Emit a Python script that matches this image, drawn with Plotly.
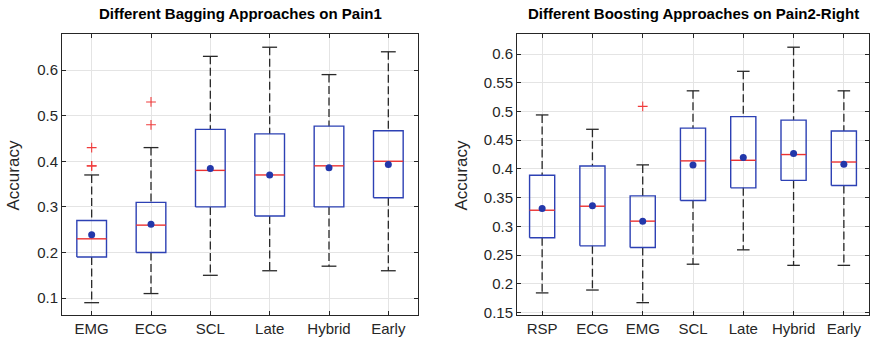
import plotly.graph_objects as go

# ---------------- data: left panel (Bagging on Pain1) ----------------
bag_categories = ["EMG", "ECG", "SCL", "Late", "Hybrid", "Early"]
bag_lower = [0.09, 0.11, 0.15, 0.16, 0.17, 0.16]
bag_q1 = [0.19, 0.20, 0.30, 0.28, 0.30, 0.32]
bag_median = [0.23, 0.26, 0.38, 0.37, 0.39, 0.40]
bag_q3 = [0.27, 0.31, 0.47, 0.46, 0.477, 0.467]
bag_upper = [0.37, 0.43, 0.63, 0.65, 0.59, 0.64]
bag_mean = [0.239, 0.262, 0.384, 0.370, 0.386, 0.393]
bag_outliers = [[0.43, 0.39, 0.39], [0.53, 0.48], [], [], [], []]
bag_yticks = [0.1, 0.2, 0.3, 0.4, 0.5, 0.6]
bag_yticklabels = ["0.1", "0.2", "0.3", "0.4", "0.5", "0.6"]

# ---------------- data: right panel (Boosting on Pain2-Right) ----------------
boost_categories = ["RSP", "ECG", "EMG", "SCL", "Late", "Hybrid", "Early"]
boost_lower = [0.184, 0.189, 0.167, 0.234, 0.259, 0.232, 0.232]
boost_q1 = [0.280, 0.266, 0.263, 0.345, 0.367, 0.380, 0.371]
boost_median = [0.328, 0.335, 0.309, 0.414, 0.415, 0.425, 0.412]
boost_q3 = [0.389, 0.405, 0.353, 0.471, 0.491, 0.485, 0.466]
boost_upper = [0.494, 0.469, 0.407, 0.536, 0.570, 0.612, 0.536]
boost_mean = [0.331, 0.336, 0.309, 0.407, 0.420, 0.427, 0.408]
boost_outliers = [[], [], [0.509], [], [], [], []]
boost_yticks = [0.15, 0.2, 0.25, 0.3, 0.35, 0.4, 0.45, 0.5, 0.55, 0.6]
boost_yticklabels = ["0.15", "0.2", "0.25", "0.3", "0.35", "0.4", "0.45", "0.5", "0.55", "0.6"]

titles = ["Different Bagging Approaches on Pain1",
          "Different Boosting Approaches on Pain2-Right"]

# ---------------- styling ----------------
W, H = 870, 341
FONT = "Liberation Sans, Arial, sans-serif"
BOX_COLOR = "rgb(45,65,180)"
MED_COLOR = "rgb(235,50,50)"
MEAN_COLOR = "rgb(35,55,170)"
WHISK_COLOR = "rgb(40,40,40)"
OUT_COLOR = "rgb(240,60,60)"
GRID = "#e4e4e4"
AX = "#262626"
BOX_HALF = 0.25
CAP_HALF = 0.125

fig = go.Figure()


def add_panel(xa, ya, lower, q1, med, q3, upper, mean, outliers):
    n = len(med)
    bx, by, mx, my, wx, wy, cx, cy, ox, oy = [], [], [], [], [], [], [], [], [], []
    for i in range(n):
        p = i + 1
        bx += [p - BOX_HALF, p + BOX_HALF, p + BOX_HALF, p - BOX_HALF, p - BOX_HALF, None]
        by += [q1[i], q1[i], q3[i], q3[i], q1[i], None]
        mx += [p - BOX_HALF, p + BOX_HALF, None]
        my += [med[i], med[i], None]
        wx += [p, p, None, p, p, None]
        wy += [upper[i], q3[i], None, q1[i], lower[i], None]
        cx += [p - CAP_HALF, p + CAP_HALF, None, p - CAP_HALF, p + CAP_HALF, None]
        cy += [upper[i], upper[i], None, lower[i], lower[i], None]
        for o in outliers[i]:
            ox.append(p)
            oy.append(o)
    common = dict(xaxis=xa, yaxis=ya, showlegend=False, hoverinfo="skip")
    fig.add_trace(go.Scatter(x=wx, y=wy, mode="lines",
                             line=dict(color=WHISK_COLOR, width=1.3, dash="8px,3.5px"), **common))
    fig.add_trace(go.Scatter(x=cx, y=cy, mode="lines",
                             line=dict(color=WHISK_COLOR, width=1.3), **common))
    fig.add_trace(go.Scatter(x=bx, y=by, mode="lines",
                             line=dict(color=BOX_COLOR, width=1.4), **common))
    fig.add_trace(go.Scatter(x=mx, y=my, mode="lines",
                             line=dict(color=MED_COLOR, width=1.4), **common))
    fig.add_trace(go.Scatter(x=list(range(1, n + 1)), y=mean, mode="markers",
                             marker=dict(color=MEAN_COLOR, size=7), **common))
    if ox:
        fig.add_trace(go.Scatter(x=ox, y=oy, mode="markers",
                                 marker=dict(symbol="cross-thin", size=7,
                                             line=dict(color=OUT_COLOR, width=1.1)),
                                 **common))


add_panel("x", "y", bag_lower, bag_q1, bag_median, bag_q3, bag_upper, bag_mean, bag_outliers)
add_panel("x2", "y2", boost_lower, boost_q1, boost_median, boost_q3, boost_upper,
          boost_mean, boost_outliers)


def px_x(p):
    return p / W


def px_y(p):
    return 1 - p / H


L1, R1 = 62, 418
L2, R2 = 517, 869
TOP, BOT = 34, 315

axis_common = dict(showline=True, linecolor=AX, linewidth=1, mirror="allticks",
                   ticks="inside", ticklen=4, tickcolor=AX, showgrid=True,
                   gridcolor=GRID, gridwidth=1, zeroline=False, automargin=False,
                   tickfont=dict(family=FONT, size=15, color=AX))

fig.update_layout(
    width=W, height=H,
    margin=dict(l=0, r=0, t=0, b=0, autoexpand=False),
    paper_bgcolor="white", plot_bgcolor="white",
    xaxis=dict(domain=[px_x(L1), px_x(R1)], range=[0.5, len(bag_categories) + 0.5],
               tickvals=list(range(1, len(bag_categories) + 1)), ticktext=bag_categories,
               anchor="y", **axis_common),
    yaxis=dict(domain=[px_y(BOT), px_y(TOP)], range=[0.063, 0.679],
               tickvals=bag_yticks, ticktext=bag_yticklabels, anchor="x", **axis_common),
    xaxis2=dict(domain=[px_x(L2), px_x(R2)], range=[0.5, len(boost_categories) + 0.5],
                tickvals=list(range(1, len(boost_categories) + 1)), ticktext=boost_categories,
                anchor="y2", **axis_common),
    yaxis2=dict(domain=[px_y(BOT), px_y(TOP)], range=[0.1455, 0.635],
                tickvals=boost_yticks, ticktext=boost_yticklabels, anchor="x2", **axis_common),
)

# titles
for cx_, t in [((L1 + R1) / 2, titles[0]), ((L2 + R2) / 2, titles[1])]:
    fig.add_annotation(x=px_x(cx_), y=px_y(14), xref="paper", yref="paper",
                       text="<b>" + t + "</b>", showarrow=False,
                       xanchor="center", yanchor="middle",
                       font=dict(family=FONT, size=15, color="black"))

# y-axis titles
for cx_ in [13, 461]:
    fig.add_annotation(x=px_x(cx_), y=px_y((TOP + BOT) / 2 + 1), xref="paper", yref="paper",
                       text="Accuracy", showarrow=False, textangle=-90,
                       xanchor="center", yanchor="middle",
                       font=dict(family=FONT, size=17, color=AX))

fig.write_html(
    "out.html",
    config={"displayModeBar": False},
    post_script="document.body.style.margin='0';document.body.style.overflow='hidden';",
)
